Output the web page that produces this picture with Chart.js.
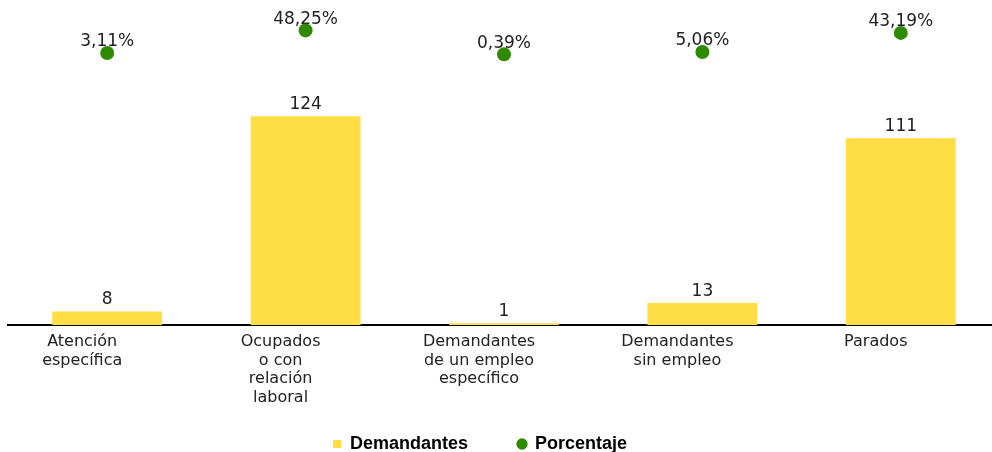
<!DOCTYPE html>
<html>
<head>
<meta charset="utf-8">
<script src="https://cdn.jsdelivr.net/npm/chart.js@4"></script>
<style>
  html, body { margin: 0; padding: 0; background: #fff; overflow: hidden; width: 992px; height: 452px; }
  canvas { display: block; }
</style>
</head>
<body>
<canvas id="chart" width="1007" height="463"></canvas>
<script>
const categories = [
    ['Atención', 'específica'],
    ['Ocupados', 'o con', 'relación', 'laboral'],
    ['Demandantes', 'de un empleo', 'específico'],
    ['Demandantes', 'sin empleo'],
    ['Parados']
];
const demandantes = [8, 124, 1, 13, 111];
const porcentaje = [3.11, 48.25, 0.39, 5.06, 43.19];

const fmtPct = v => v.toFixed(2).replace('.', ',') + '%';

// value labels above bars and points
const valueLabels = {
    id: 'valueLabels',
    beforeDatasetsDraw(chart) {
        const ctx = chart.ctx;
        ctx.save();
        ctx.font = '17px "DejaVu Sans"';
        ctx.fillStyle = '#222';
        ctx.textAlign = 'center';
        ctx.textBaseline = 'middle';
        chart.getDatasetMeta(0).data.forEach((el, i) => {
            ctx.fillText(String(demandantes[i]), el.x, el.y - 12);
        });
        chart.getDatasetMeta(1).data.forEach((el, i) => {
            ctx.fillText(fmtPct(porcentaje[i]), el.x, el.y - 11);
        });
        ctx.restore();
    }
};

Chart.defaults.font.family = '"DejaVu Sans", sans-serif';
Chart.defaults.color = '#222';

// extra gap after each legend text (in non-breaking spaces)
const legendGap = { 'Demandantes': 8, 'Porcentaje': 11 };

const ctx = document.getElementById('chart').getContext('2d');
const myChart = new Chart(ctx, {
    type: 'bar',
    data: {
        labels: categories,
        datasets: [{
            label: 'Demandantes',
            data: demandantes,
            backgroundColor: '#FFDD44',
            borderWidth: 0,
            barPercentage: 0.554,
            categoryPercentage: 1,
            pointStyle: 'rect',
            yAxisID: 'y',
            order: 2
        }, {
            type: 'line',
            label: 'Porcentaje',
            data: porcentaje,
            showLine: false,
            pointRadius: 7,
            pointHoverRadius: 7,
            pointBackgroundColor: '#2E8A00',
            pointBorderWidth: 0,
            backgroundColor: '#2E8A00',
            borderColor: '#2E8A00',
            pointStyle: 'circle',
            yAxisID: 'y2',
            order: 1
        }]
    },
    options: {
        responsive: false,
        animation: false,
        layout: {
            padding: { left: 8, right: 0, top: 22, bottom: 0 }
        },
        scales: {
            x: {
                grid: { display: false, drawTicks: false },
                border: { display: true, color: '#000', width: 2 },
                ticks: {
                    maxRotation: 0,
                    autoSkip: false,
                    padding: 8,
                    labelOffset: -25,
                    color: '#222',
                    font: { size: 16, lineHeight: 1.15 }
                },
                afterFit(scale) { scale.height = 100; }
            },
            y: {
                display: false,
                min: 0,
                max: 180
            },
            y2: {
                display: false,
                min: -540,
                max: 65
            }
        },
        plugins: {
            legend: {
                position: 'bottom',
                labels: {
                    usePointStyle: true,
                    boxWidth: 8,
                    boxHeight: 8,
                    padding: 10,
                    color: '#000',
                    font: { family: '"Liberation Sans", Arial, sans-serif', size: 18, weight: 'bold' },
                    sort: (a, b) => a.datasetIndex - b.datasetIndex,
                    generateLabels(chart) {
                        const items = Chart.defaults.plugins.legend.labels.generateLabels(chart);
                        items.forEach(it => { it.text += '\u00a0'.repeat(legendGap[it.text] || 0); });
                        return items;
                    }
                }
            },
            tooltip: { enabled: false }
        }
    },
    plugins: [valueLabels]
});
</script>
</body>
</html>
